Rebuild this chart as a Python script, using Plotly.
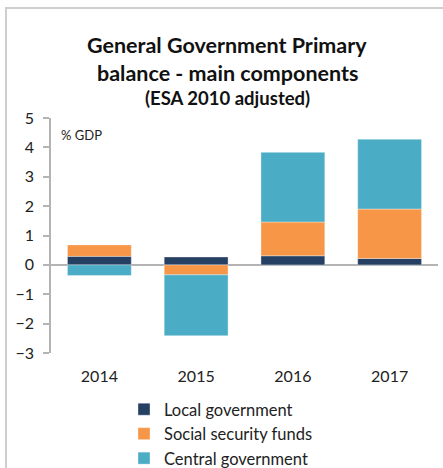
import plotly.graph_objects as go

# Primary balance components, % of GDP
years = ["2014", "2015", "2016", "2017"]
local_gov = [0.29, 0.27, 0.31, 0.22]
social_security = [0.39, -0.34, 1.15, 1.68]
central_gov = [-0.36, -2.07, 2.37, 2.38]

series_names = ["Local government", "Social security funds", "Central government"]
colors = ["#264064", "#F79646", "#4BACC6"]
y_ticks = [-3, -2, -1, 0, 1, 2, 3, 4, 5]

W, H = 443, 468
ML, MR, MT, MB = 51, 5, 118, 115
FONT = "Lato, 'Open Sans', sans-serif"


def px_x(px):
    return (px - ML) / (W - ML - MR)


def px_y(py):
    return (H - MB - py) / (H - MT - MB)


fig = go.Figure()
for name, vals, col in zip(series_names, [local_gov, social_security, central_gov], colors):
    fig.add_trace(go.Bar(
        x=years, y=vals, name=name,
        marker=dict(color=col, line=dict(color="rgba(255,255,255,0.6)", width=0.6)),
    ))

fig.update_layout(
    width=W, height=H,
    margin=dict(l=ML, r=MR, t=MT, b=MB, autoexpand=False),
    paper_bgcolor="white", plot_bgcolor="white",
    barmode="relative", bargap=0.34,
    font=dict(family=FONT, color="#222222", size=16),
    showlegend=True,
    legend=dict(
        x=px_x(124), y=px_y(392), xanchor="left", yanchor="top",
        font=dict(size=16.5, family=FONT, color="#222222"),
        traceorder="normal", itemwidth=30, bgcolor="rgba(0,0,0,0)",
        tracegroupgap=0,
    ),
    xaxis=dict(
        showline=False, showgrid=False, ticks="",
        tickfont=dict(size=16), ticklabelstandoff=12,
    ),
    yaxis=dict(
        range=[-3, 5], tickvals=y_ticks,
        showgrid=False, showline=True, linecolor="#b4b4b4", linewidth=1.5,
        ticks="outside", ticklen=6, tickcolor="#b4b4b4", tickwidth=1.5,
        zeroline=True, zerolinecolor="#b4b4b4", zerolinewidth=1.5,
        tickfont=dict(size=16), ticklabelstandoff=6,
    ),
)

# Chart titles
titles = [
    ("General Government Primary", 45, 21.5),
    ("balance - main components", 73, 21.5),
    ("(ESA 2010 adjusted)", 98, 18.5),
]
for text, ypx, size in titles:
    fig.add_annotation(
        text=f"<b>{text}</b>", xref="paper", yref="paper",
        x=px_x(227), y=px_y(ypx), xanchor="center", yanchor="middle",
        showarrow=False, font=dict(size=size, family=FONT, color="#111111"),
    )

fig.add_annotation(
    text="% GDP", xref="paper", yref="paper",
    x=px_x(59), y=px_y(135), xanchor="left", yanchor="middle",
    showarrow=False, font=dict(size=13, family=FONT, color="#222222"),
)

# Frame lines along the top and left edges
fig.add_shape(type="line", xref="paper", yref="paper",
              x0=px_x(5), x1=px_x(W + 2), y0=px_y(8), y1=px_y(8),
              line=dict(color="#cfcfcf", width=2))
fig.add_shape(type="line", xref="paper", yref="paper",
              x0=px_x(6), x1=px_x(6), y0=px_y(7), y1=px_y(H + 2),
              line=dict(color="#cfcfcf", width=2))

fig.write_html("out.html")
